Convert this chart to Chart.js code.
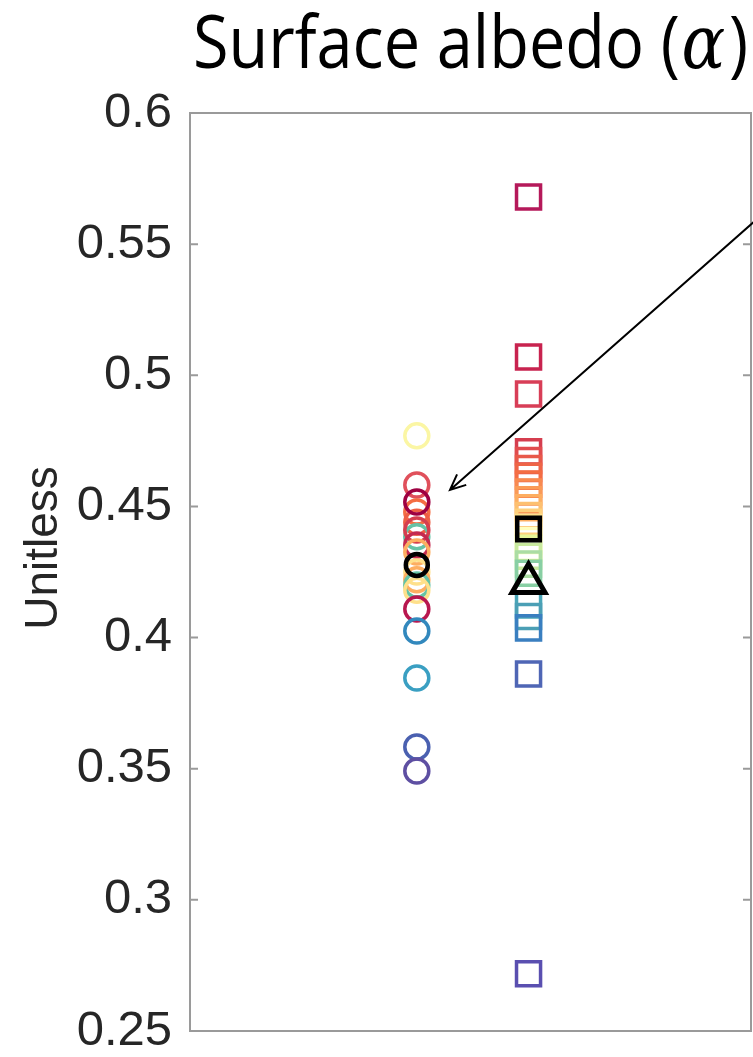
<!DOCTYPE html>
<html>
<head>
<meta charset="utf-8">
<script src="https://cdn.jsdelivr.net/npm/chart.js@4.4.0/dist/chart.umd.min.js"></script>
<style>
  html, body { margin: 0; padding: 0; background: #fff; }
  canvas { display: block; }
</style>
</head>
<body>
<canvas id="chart" width="753" height="1057"></canvas>
<script>
// y axis ticks
const yTicks = [0.25, 0.3, 0.35, 0.4, 0.45, 0.5, 0.55, 0.6];
const yTickLabels = ["0.25", "0.3", "0.35", "0.4", "0.45", "0.5", "0.55", "0.6"];

// column positions on x (only the first two columns are visible)
const circleCol = 1;
const squareCol = 2;

// circles (column 1)
const circleVals = [0.4769, 0.4582, 0.4479, 0.4440, 0.4384, 0.4410, 0.4353, 0.4326, 0.4250, 0.4220, 0.4200, 0.4180, 0.4517, 0.4109, 0.4025, 0.3846, 0.3583, 0.3491];
const circleColors = ["#fbf6a4", "#e0505b", "#f46d43", "#ee5f45", "#66c2a5", "#d53e4f", "#c42a50", "#fdae61", "#fee08b", "#fdae61", "#66c2a5", "#fee08b", "#9e0142", "#b8174f", "#3288bd", "#3a9fc2", "#4a60b0", "#5e4fa2"];

// squares (column 2)
const squareVals = [0.5680, 0.5070, 0.4929, 0.4708, 0.4675, 0.4645, 0.4615, 0.4585, 0.4555, 0.4525, 0.4495, 0.4465, 0.4440, 0.4420, 0.4370, 0.4340, 0.4310, 0.4280, 0.4245, 0.4124, 0.4080, 0.4037, 0.3861, 0.2718];
const squareColors = ["#b5195a", "#c8234f", "#d83e57", "#d53e4f", "#e14c4e", "#e8594a", "#ee6547", "#f46d43", "#f88a50", "#fa9b57", "#fdae61", "#fdc070", "#fed07c", "#fee08b", "#ffffbf", "#e6f598", "#c8e99e", "#abdda4", "#88cfa4", "#4aa6b8", "#4b9fb5", "#3a7fc0", "#4f66b5", "#5a4fb0"];

// black summary markers
const meanCircle = 0.4277;
const meanSquare = 0.4414;
const meanTriangle = 0.4208;

// arrow annotation (data coords)
const arrowFrom = [4.07, 0.5605];
const arrowTo = [1.297, 0.4563];

const GRAY = "#9a9a9a";
const TEXT = "#262626";

const framePlugin = {
  id: "frame",
  beforeDatasetsDraw(chart) {
    const { ctx, chartArea: a, scales } = chart;
    ctx.save();
    ctx.strokeStyle = GRAY;
    ctx.lineWidth = 2;
    ctx.strokeRect(a.left, a.top, a.right - a.left - 1, a.bottom - a.top);
    ctx.beginPath();
    yTicks.forEach(v => {
      const py = scales.y.getPixelForValue(v);
      ctx.moveTo(a.left, py);
      ctx.lineTo(a.left + 8, py);
      ctx.moveTo(a.right - 1, py);
      ctx.lineTo(a.right - 9, py);
    });
    ctx.stroke();
    ctx.restore();
  },
  afterDatasetsDraw(chart) {
    const { ctx, scales } = chart;
    const x1 = scales.x.getPixelForValue(arrowFrom[0]);
    const y1 = scales.y.getPixelForValue(arrowFrom[1]);
    const x2 = scales.x.getPixelForValue(arrowTo[0]);
    const y2 = scales.y.getPixelForValue(arrowTo[1]);
    const ang = Math.atan2(y2 - y1, x2 - x1);
    ctx.save();
    ctx.strokeStyle = "#000";
    ctx.lineWidth = 2;
    ctx.beginPath();
    ctx.moveTo(x1, y1);
    ctx.lineTo(x2, y2);
    const hl = 17, hw = 0.42;
    ctx.moveTo(x2 - hl * Math.cos(ang - hw), y2 - hl * Math.sin(ang - hw));
    ctx.lineTo(x2, y2);
    ctx.lineTo(x2 - hl * Math.cos(ang + hw), y2 - hl * Math.sin(ang + hw));
    ctx.stroke();
    ctx.restore();
  },
  afterDraw(chart) {
    const { ctx } = chart;
    ctx.save();
    // y axis title
    ctx.fillStyle = TEXT;
    ctx.font = "46px 'Liberation Sans', Arial, sans-serif";
    ctx.textAlign = "center";
    ctx.textBaseline = "middle";
    ctx.translate(44, 548);
    ctx.rotate(-Math.PI / 2);
    ctx.fillText("Unitless", 0, 0);
    ctx.restore();

    // title with italic alpha
    ctx.save();
    ctx.fillStyle = "#000";
    ctx.textBaseline = "alphabetic";
    ctx.textAlign = "left";
    const fReg = "74px 'Open Sans', sans-serif";
    const fIt = "italic 74px 'DejaVu Serif', serif";
    const p1 = "Surface albedo (", p2 = "\u03B1", p3 = ")";
    ctx.font = fReg;
    const w1 = ctx.measureText(p1).width, w3 = ctx.measureText(p3).width;
    ctx.font = fIt;
    const w2 = ctx.measureText(p2).width + 6;
    const total = w1 + w2 + w3;
    const sx = 555 / total;
    ctx.translate(193, 68);
    ctx.scale(sx, 1);
    ctx.font = fReg;
    ctx.fillText(p1, 0, 0);
    ctx.font = fIt;
    ctx.fillText(p2, w1 + 2, 0);
    ctx.font = fReg;
    ctx.fillText(p3, w1 + w2, 0);
    ctx.restore();
  }
};

new Chart(document.getElementById("chart"), {
  type: "scatter",
  data: {
    datasets: [
      {
        order: 3,
        data: circleVals.map(v => ({ x: circleCol, y: v })),
        pointStyle: "circle",
        pointRadius: 12,
        borderWidth: 3.5,
        pointBorderColor: circleColors,
        pointBackgroundColor: "rgba(0,0,0,0)"
      },
      {
        order: 4,
        data: squareVals.map(v => ({ x: squareCol, y: v })),
        pointStyle: "rect",
        pointRadius: 17,
        borderWidth: 3.5,
        pointBorderColor: squareColors,
        pointBackgroundColor: "rgba(0,0,0,0)"
      },
      {
        order: 0,
        data: [{ x: circleCol, y: meanCircle }],
        pointStyle: "circle",
        pointRadius: 11,
        borderWidth: 4.5,
        pointBorderColor: "#000",
        pointBackgroundColor: "rgba(0,0,0,0)"
      },
      {
        order: 1,
        data: [{ x: squareCol, y: meanSquare }],
        pointStyle: "rect",
        pointRadius: 16,
        borderWidth: 4.5,
        pointBorderColor: "#000",
        pointBackgroundColor: "rgba(0,0,0,0)"
      },
      {
        order: 0,
        data: [{ x: squareCol, y: meanTriangle }],
        pointStyle: "triangle",
        pointRadius: 19,
        borderWidth: 5,
        pointBorderColor: "#000",
        pointBackgroundColor: "rgba(0,0,0,0)"
      }
    ]
  },
  options: {
    responsive: false,
    animation: false,
    layout: { autoPadding: false, padding: { top: 113, right: 1, left: 0, bottom: 0 } },
    plugins: {
      legend: { display: false },
      tooltip: { enabled: false },
      title: { display: false }
    },
    scales: {
      x: {
        type: "linear",
        min: -1.03,
        max: 4.0,
        grid: { display: false, drawTicks: false },
        border: { display: false },
        ticks: { display: false },
        afterFit(scale) {
          scale.height = 26;
          scale.paddingLeft = 0;
          scale.paddingRight = 0;
        }
      },
      y: {
        type: "linear",
        min: 0.25,
        max: 0.6,
        grid: { display: false, drawTicks: false },
        border: { display: false },
        afterBuildTicks(scale) { scale.ticks = yTicks.map(v => ({ value: v })); },
        ticks: {
          color: TEXT,
          padding: 18,
          font: { family: "'Liberation Sans', Arial, sans-serif", size: 49 },
          callback(value) {
            const i = yTicks.findIndex(t => Math.abs(t - value) < 1e-9);
            return i >= 0 ? yTickLabels[i] : "";
          }
        },
        afterFit(scale) {
          scale.width = 190;
          scale.paddingTop = 0;
          scale.paddingBottom = 0;
        }
      }
    }
  },
  plugins: [framePlugin]
});
</script>
</body>
</html>
